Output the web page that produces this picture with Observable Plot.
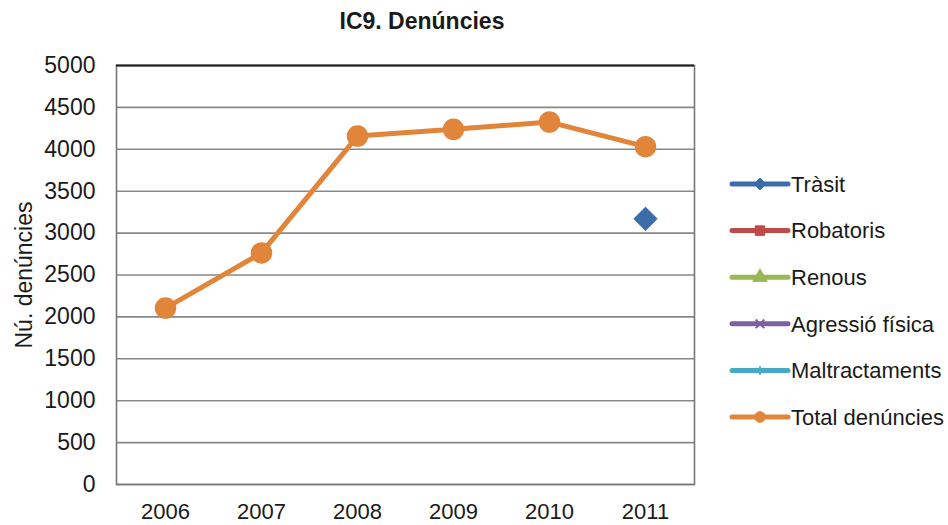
<!DOCTYPE html>
<html>
<head>
<meta charset="utf-8">
<script src="https://cdn.jsdelivr.net/npm/d3@7"></script>
<script src="https://cdn.jsdelivr.net/npm/@observablehq/plot@0.6"></script>
<style>
  html, body { margin: 0; padding: 0; background: #fff; }
  #wrap { position: relative; width: 948px; height: 525px; font-family: "Liberation Sans", Arial, sans-serif; }
  #title { position: absolute; left: 0; top: 8px; width: 844px; text-align: center; font-weight: bold; font-size: 23px; color: #1a1a1a; }
  #legend { position: absolute; left: 728px; top: 160px; }
</style>
</head>
<body>
<div id="wrap">
  <div id="chart"></div>
  <div id="title">IC9. Denúncies</div>
  <div id="legend"></div>
</div>
<script>
const years = ["2006", "2007", "2008", "2009", "2010", "2011"];
const transit = [null, null, null, null, null, 3170];
const robatoris = [null, null, null, null, null, null];
const renous = [null, null, null, null, null, null];
const agressio = [null, null, null, null, null, null];
const maltractaments = [null, null, null, null, null, null];
const total = [2105, 2763, 4158, 4238, 4325, 4031];
const yTicks = [0, 500, 1000, 1500, 2000, 2500, 3000, 3500, 4000, 4500, 5000];

const seriesNames = ["Tràsit", "Robatoris", "Renous", "Agressió física", "Maltractaments", "Total denúncies"];
const seriesValues = [transit, robatoris, renous, agressio, maltractaments, total];
const seriesColors = ["#3C6DAA", "#BE4B48", "#98B954", "#7D60A0", "#46AAC5", "#E1853A"];
const seriesSymbols = ["diamond2", "square", "triangle", "times", "asterisk", "circle"];

const rows = [];
seriesNames.forEach((s, i) => {
  years.forEach((y, j) => {
    rows.push({series: s, year: y, value: seriesValues[i][j]});
  });
});
const valid = rows.filter(d => d.value != null);

const chart = Plot.plot({
  width: 948,
  height: 525,
  marginLeft: 116,
  marginRight: 254,
  marginTop: 65,
  marginBottom: 41,
  style: {fontFamily: "Liberation Sans, Arial, sans-serif", fontSize: "23px", color: "#1a1a1a", background: "#fff"},
  x: {type: "point", domain: years, padding: 0.5},
  y: {domain: [0, 5000]},
  color: {domain: seriesNames, range: seriesColors},
  symbol: {domain: seriesNames, range: seriesSymbols},
  marks: [
    Plot.ruleY(yTicks, {stroke: "#888", strokeWidth: 1.6}),
    Plot.frame({stroke: "#777", strokeWidth: 1.6}),
    Plot.ruleY([5000], {stroke: "#222", strokeWidth: 1.8}),
    Plot.axisY({ticks: yTicks, tickFormat: d => String(d), tickSize: 0, tickPadding: 21, label: "Nú. denúncies", labelAnchor: "center", labelOffset: 101, labelArrow: "none", fontSize: 23}),
    Plot.axisX({tickSize: 0, tickPadding: 19, label: null, fontSize: 22}),
    Plot.line(rows, {x: "year", y: "value", z: "series", stroke: "series", strokeWidth: 5, defined: d => d.value != null}),
    Plot.dot(valid, {x: "year", y: "value", fill: "series", stroke: "series", symbol: "series", r: 10})
  ]
});
document.getElementById("chart").appendChild(chart);

// Legend
const lg = d3.select("#legend").append("svg").attr("width", 220).attr("height", 290)
  .style("font-family", "Liberation Sans, Arial, sans-serif").style("font-size", "22px");
const step = 46.6;
seriesNames.forEach((s, i) => {
  const g = lg.append("g").attr("transform", `translate(0, ${24 + i * step})`);
  g.append("line").attr("x1", 4).attr("x2", 60).attr("y1", 0).attr("y2", 0)
    .attr("stroke", seriesColors[i]).attr("stroke-width", 5).attr("stroke-linecap", "round");
  const sym = {diamond2: d3.symbolDiamond2, square: d3.symbolSquare, triangle: d3.symbolTriangle, times: d3.symbolTimes, asterisk: d3.symbolAsterisk, circle: d3.symbolCircle}[seriesSymbols[i]];
  const isStroke = seriesSymbols[i] === "times" || seriesSymbols[i] === "asterisk";
  g.append("path").attr("transform", "translate(32,0)")
    .attr("d", d3.symbol(sym, isStroke ? 50 : 90)())
    .attr("fill", isStroke ? "none" : seriesColors[i])
    .attr("stroke", seriesColors[i]).attr("stroke-width", isStroke ? 2 : 1);
  g.append("text").attr("x", 63).attr("y", 0).attr("dy", "0.35em").attr("fill", "#1a1a1a").text(s);
});
</script>
</body>
</html>
